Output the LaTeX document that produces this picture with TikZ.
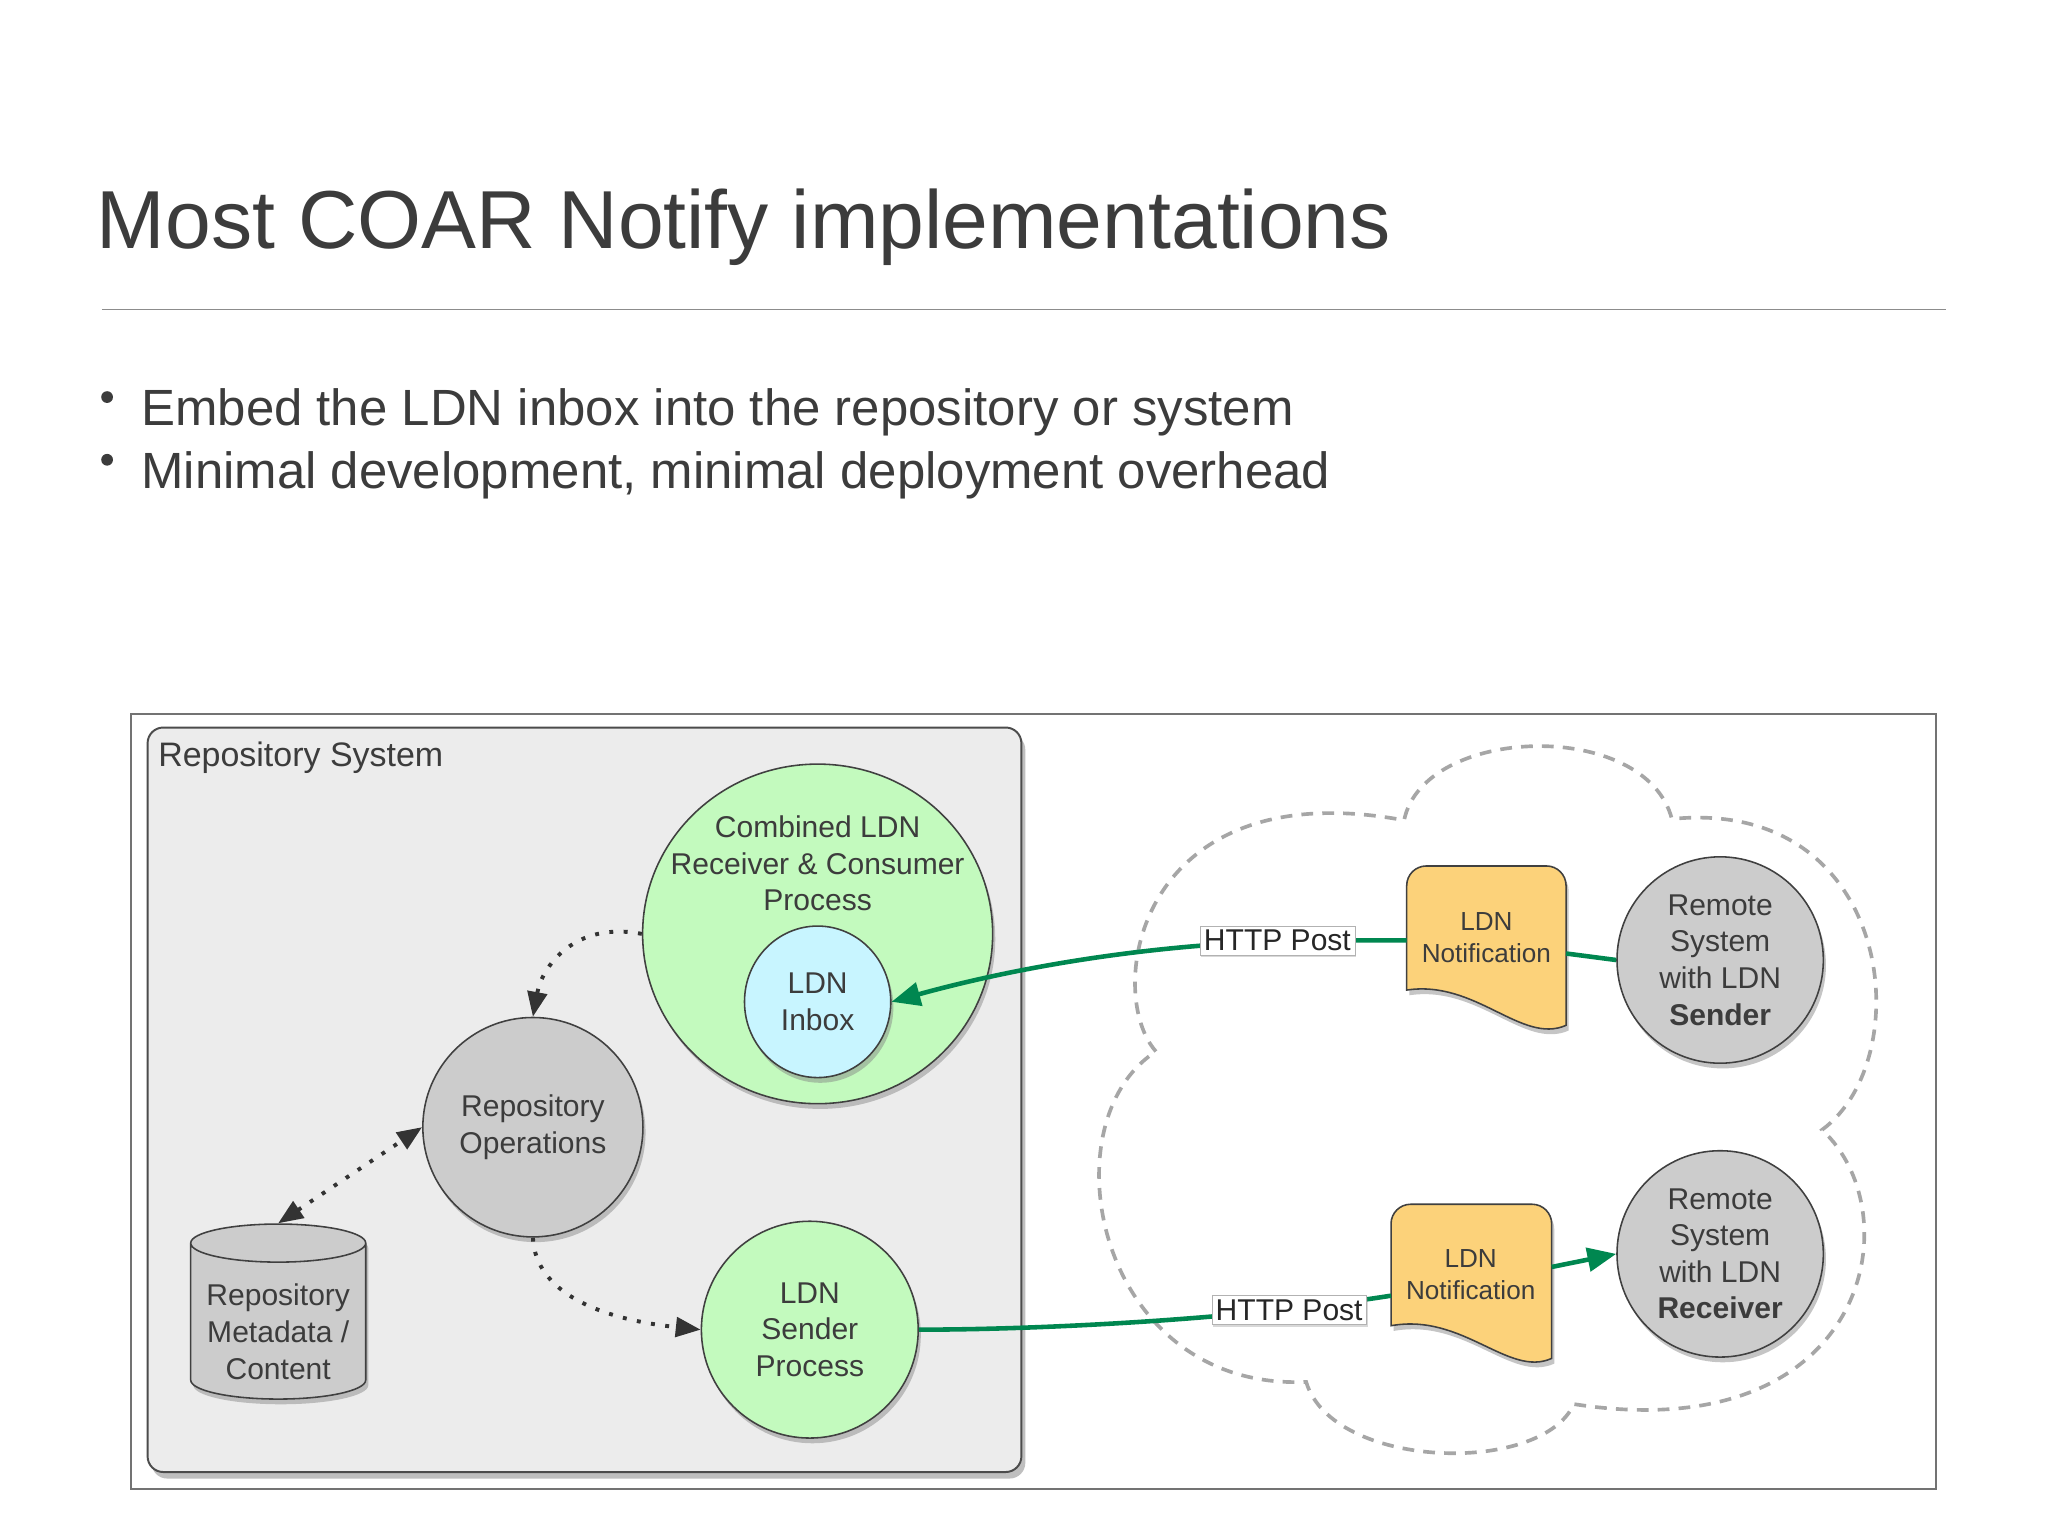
\documentclass[tikz,border=0pt]{standalone}
\usepackage{fontspec}
\setmainfont{Liberation Sans}
\usetikzlibrary{shapes.geometric,arrows.meta,shadows}
\definecolor{gr}{RGB}{0,135,80}
\definecolor{lgreen}{RGB}{195,250,190}
\definecolor{lblue}{RGB}{200,245,255}
\definecolor{lgray}{RGB}{204,204,204}
\definecolor{boxbg}{RGB}{236,236,236}
\definecolor{docy}{RGB}{252,210,122}
\definecolor{txt}{RGB}{60,60,60}
\tikzset{
  circ/.style={ellipse,draw=black!75,line width=1.2pt,align=center,font=\fontsize{23}{28}\selectfont,text=txt,
    drop shadow={shadow xshift=2pt,shadow yshift=-4pt,opacity=.45}},
  green/.style={line width=3.5pt,draw=gr},
  dots/.style={line width=3pt,dash pattern=on 3pt off 8pt,draw=black!80,-{Triangle[length=19pt,width=15pt]}},
  lab/.style={fill=white,draw=black!30,inner sep=3pt,font=\fontsize{23}{27}\selectfont,text=black!85,
    drop shadow={shadow xshift=1pt,shadow yshift=-2pt,opacity=.3}},
  doctxt/.style={align=center,font=\fontsize{20}{25}\selectfont,text=txt},
}
\begin{document}
\begin{tikzpicture}[x=1pt,y=-1pt]
\useasboundingbox (0,0) rectangle (1568,1176);
\fill[white] (0,0) rectangle (1568,1176);
\node[anchor=base west,font=\fontsize{63}{70}\selectfont,text=txt,inner sep=0] (title) at (74,190) {Most COAR Notify implementations};
\draw[black!45,line width=1.2pt] (78,237) -- (1490,237);
\node[anchor=base west,font=\fontsize{39}{46}\selectfont,text=txt,inner sep=0] (b1) at (108,326) {Embed the LDN inbox into the repository or system};
\node[anchor=base west,font=\fontsize{39}{46}\selectfont,text=txt,inner sep=0] (b2) at (108,374) {Minimal development, minimal deployment overhead};
\fill[txt] (82,304) circle (4.5);
\fill[txt] (82,352) circle (4.5);
% frame
\draw[black!55,line width=1.5pt,fill=white] (100,547) rectangle (1482,1140);
\draw[black!70,line width=1.5pt,fill=boxbg,rounded corners=12pt,drop shadow={shadow xshift=3pt,shadow yshift=-5pt,opacity=.5}] (113,557) rectangle (782,1127);
\node[anchor=west,font=\fontsize{26}{30}\selectfont,text=txt,inner sep=0] (rs) at (121,580) {Repository System};
% cloud
\draw[black!35,line width=2.8pt,dash pattern=on 9pt off 7pt]
 (885,805) .. controls (845,760) and (870,590) .. (1075,628)
 .. controls (1090,555) and (1260,550) .. (1280,627)
 .. controls (1450,610) and (1470,810) .. (1395,865)
 .. controls (1465,930) and (1430,1110) .. (1205,1075)
 .. controls (1180,1130) and (1020,1125) .. (1000,1058)
 .. controls (840,1065) and (800,860) .. (885,805) -- cycle;
% nodes
\node[circ,fill=lgreen,minimum width=268,minimum height=260] (comb) at (626,715) {};
\node[align=center,font=\fontsize{23}{28}\selectfont,text=txt] (combt) at (626,661) {Combined LDN\\Receiver \& Consumer\\Process};
\node[circ,fill=lblue,minimum width=112,minimum height=116] (inbox) at (626,767) {LDN\\Inbox};
\node[circ,fill=lgray,minimum width=168,minimum height=168] (ops) at (408,863) {Repository\\Operations};
\node[circ,fill=lgreen,minimum width=166,minimum height=166] (send) at (620,1018) {LDN\\Sender\\Process};
\node[cylinder,shape border rotate=90,aspect=0.25,draw=black!75,line width=1.2pt,fill=lgray,minimum width=134,minimum height=134,align=center,font=\fontsize{23}{28}\selectfont,text=txt,
  drop shadow={shadow xshift=2pt,shadow yshift=-4pt,opacity=.45}] (db) at (213,1014) {\\Repository\\Metadata /\\Content};
\node[circ,fill=lgray,minimum width=158,minimum height=158] (rsend) at (1317,735) {Remote\\System\\with LDN\\\textbf{Sender}};
\node[circ,fill=lgray,minimum width=158,minimum height=158] (rrecv) at (1317,960) {Remote\\System\\with LDN\\\textbf{Receiver}};
% documents
\draw[black!75,line width=1.2pt,fill=docy,drop shadow={shadow xshift=2pt,shadow yshift=-4pt,opacity=.45}]
 (1077,758) -- (1077,678) arc[start angle=180,end angle=270,radius=15] -- (1184,663) arc[start angle=270,end angle=360,radius=15] -- (1199,785)
 .. controls (1165,800) and (1130,750) .. (1077,758) -- cycle;
\node[doctxt] (doc1) at (1138,718) {LDN\\Notification};
\draw[black!75,line width=1.2pt,fill=docy,drop shadow={shadow xshift=2pt,shadow yshift=-4pt,opacity=.45}]
 (1065,1015) -- (1065,937) arc[start angle=180,end angle=270,radius=15] -- (1173,922) arc[start angle=270,end angle=360,radius=15] -- (1188,1040)
 .. controls (1155,1055) and (1120,1005) .. (1065,1015) -- cycle;
\coordinate (d1w) at (1077,720);
\coordinate (d1e) at (1199,730);
\coordinate (d2w) at (1065,992);
\coordinate (d2e) at (1188,970);
\node[doctxt] (doc2) at (1126,976) {LDN\\Notification};
% green connectors
\draw[green] (rsend.west) -- (d1e);
\draw[green,-{Triangle[length=22pt,width=18pt]}] (d1w) -- (1038,720) .. controls (900,718) and (780,740) .. (inbox.east);
\node[lab] (hp1) at (978,720) {HTTP Post};
\draw[green] (send.east) .. controls (800,1018) and (950,1010) .. (d2w);
\node[lab] (hp2) at (987,1003) {HTTP Post};
\draw[green,-{Triangle[length=22pt,width=18pt]}] (d2e) -- (rrecv.west);
% dotted connectors
\draw[dots] (comb.west) .. controls (440,705) and (415,740) .. (ops.north);
\draw[dots] (ops.south) .. controls (410,990) and (460,1010) .. (send.west);
\draw[dots,{Triangle[length=19pt,width=15pt]}-{Triangle[length=19pt,width=15pt]}] (db.north) -- (ops.west);
\end{tikzpicture}
\end{document}
